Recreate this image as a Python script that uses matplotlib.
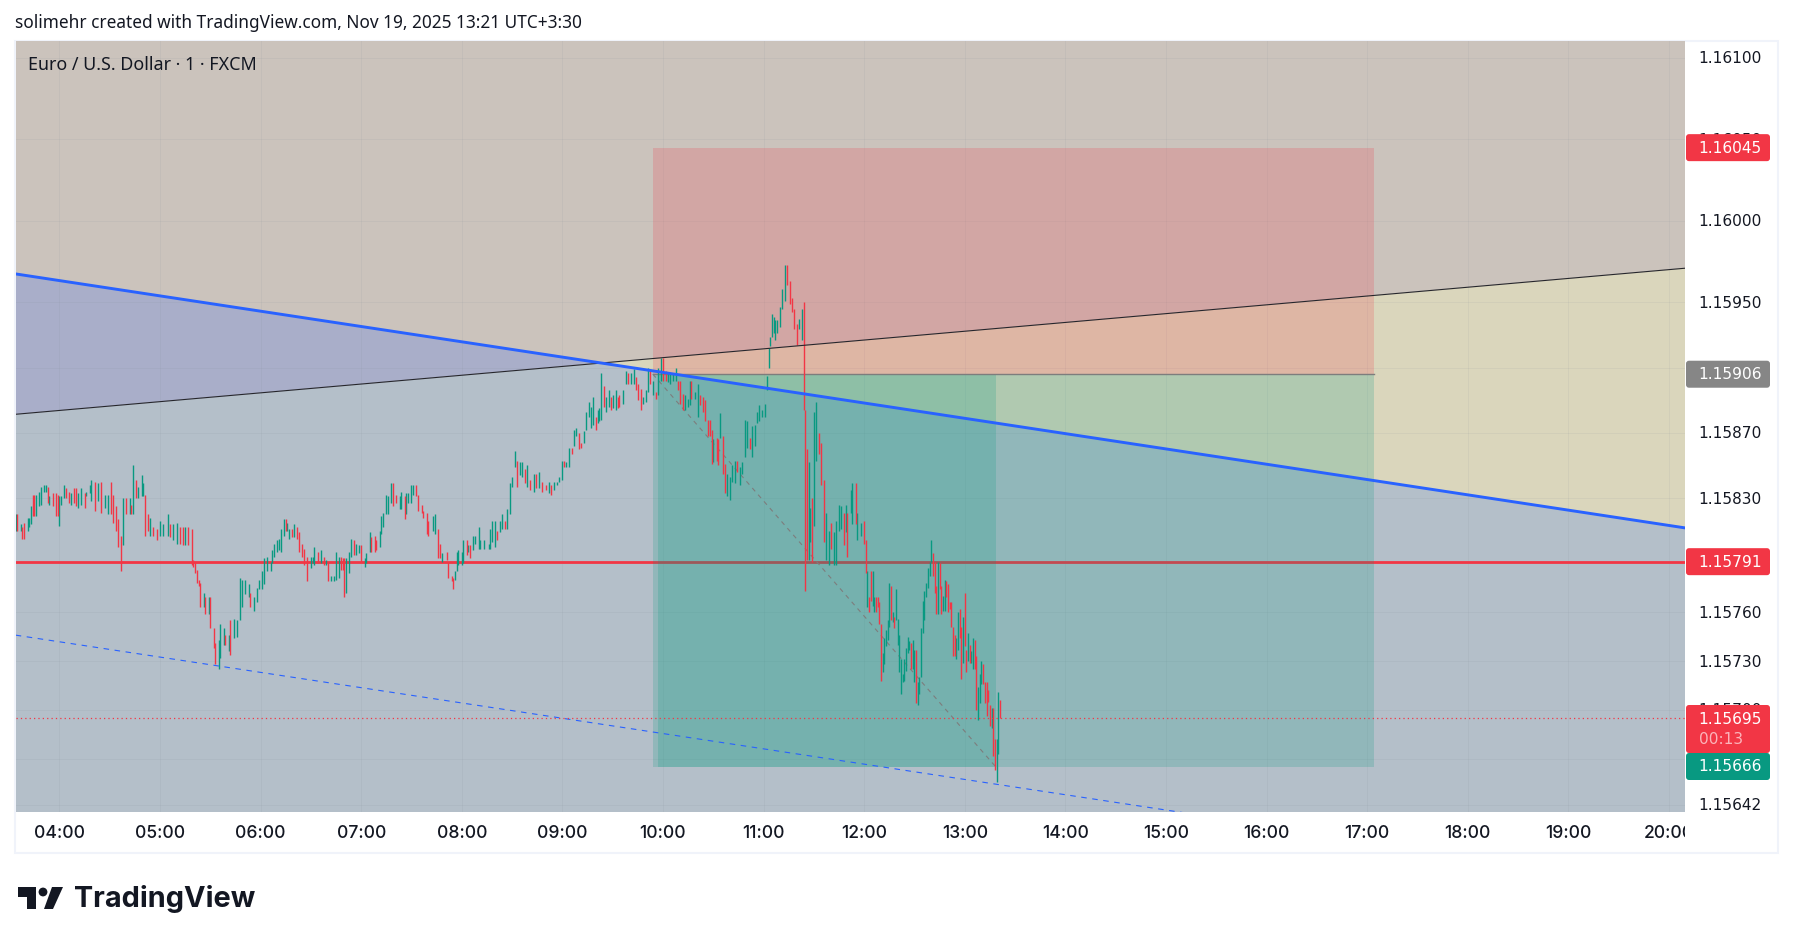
import numpy as np
import matplotlib
matplotlib.use("Agg")
import matplotlib.pyplot as plt
from matplotlib.patches import Rectangle, FancyBboxPatch, Polygon
from matplotlib.transforms import Bbox, TransformedBbox

W, H = 1793, 944
GREEN = "#089981"
RED = "#f23645"

# minutes after 03:34, open and close in 1e-5 above 1.15000
bar_minute = [
    0, 1, 3, 4, 5, 7, 8, 9, 10, 11, 12, 14, 15, 17, 18, 19, 20, 22, 24, 25,
    26, 27, 29, 30, 32, 33, 35, 36, 37, 39, 41, 42, 44, 45, 47, 49, 51, 53, 55, 57,
    58, 60, 61, 63, 64, 66, 68, 69, 70, 72, 73, 75, 76, 77, 79, 80, 82, 84, 86, 88,
    91, 92, 94, 96, 98, 100, 101, 103, 105, 106, 107, 108, 109, 110, 112, 113, 115, 116, 118, 119,
    121, 122, 124, 125, 127, 128, 130, 132, 134, 135, 137, 139, 140, 142, 144, 145, 147, 148, 150, 152,
    153, 154, 156, 157, 158, 160, 161, 162, 163, 165, 166, 168, 169, 171, 172, 174, 176, 177, 178, 180,
    182, 184, 185, 186, 188, 190, 191, 193, 194, 195, 196, 197, 199, 200, 202, 203, 205, 206, 208, 209,
    211, 212, 214, 215, 217, 218, 219, 221, 222, 224, 225, 227, 229, 230, 232, 233, 234, 236, 237, 239,
    240, 242, 243, 245, 246, 249, 250, 252, 253, 254, 257, 258, 260, 261, 262, 263, 264, 266, 267, 269,
    270, 271, 273, 274, 276, 277, 279, 282, 283, 284, 286, 287, 289, 290, 292, 293, 295, 296, 298, 299,
    301, 302, 304, 305, 307, 309, 310, 312, 314, 316, 318, 319, 321, 323, 324, 326, 327, 328, 330, 332,
    333, 334, 336, 337, 339, 340, 342, 343, 344, 346, 347, 348, 349, 351, 352, 354, 355, 356, 358, 359,
    360, 362, 364, 365, 367, 369, 370, 371, 373, 374, 376, 377, 378, 380, 382, 383, 385, 386, 388, 389,
    390, 392, 394, 395, 396, 398, 399, 401, 402, 403, 405, 407, 408, 410, 411, 413, 414, 415, 416, 418,
    419, 420, 422, 423, 424, 426, 427, 429, 430, 432, 433, 435, 436, 438, 439, 441, 442, 443, 445, 447,
    448, 449, 450, 451, 452, 453, 454, 456, 457, 459, 460, 462, 463, 464, 466, 467, 469, 470, 471, 472,
    473, 474, 475, 476, 477, 479, 480, 482, 483, 485, 486, 488, 489, 491, 492, 494, 495, 496, 498, 499,
    501, 502, 504, 506, 507, 508, 509, 510, 511, 512, 513, 514, 515, 516, 517, 518, 519, 520, 521, 522,
    523, 524, 525, 526, 527, 528, 529, 530, 531, 532, 533, 534, 535, 536, 537, 538, 539, 540, 541, 542,
    543, 544, 545, 546, 547, 548, 549, 550, 551, 552, 553, 554, 555, 556, 557, 558, 559, 560, 561, 562,
    563, 564, 565, 566, 567, 568, 569, 570, 571, 572, 573, 574, 575, 576, 577, 578, 579, 580, 581, 582,
    583, 584, 585, 586, 587,
]
bar_open = [
    810, 820, 810, 812, 815, 810, 812, 814, 832, 832, 819, 825, 826, 834, 834, 837, 826, 833, 833, 832,
    813, 826, 830, 836, 834, 826, 836, 836, 824, 826, 833, 831, 833, 828, 840, 828, 840, 824, 820, 840,
    832, 825, 817, 807, 801, 830, 820, 826, 820, 841, 830, 831, 831, 832, 820, 807, 812, 811, 807, 807,
    807, 814, 804, 802, 812, 812, 801, 812, 811, 792, 791, 786, 780, 778, 763, 769, 759, 769, 750, 741,
    725, 732, 740, 746, 736, 755, 744, 745, 755, 763, 771, 769, 772, 761, 766, 774, 774, 777, 785, 785,
    790, 794, 797, 798, 797, 807, 817, 810, 805, 811, 806, 812, 809, 802, 799, 794, 787, 790, 789, 797,
    790, 794, 789, 791, 779, 779, 780, 781, 794, 793, 793, 772, 784, 794, 804, 795, 796, 801, 788, 790,
    797, 806, 807, 804, 800, 808, 812, 820, 820, 827, 839, 832, 823, 823, 831, 820, 827, 827, 832, 838,
    832, 826, 822, 821, 816, 810, 808, 811, 802, 791, 797, 791, 782, 781, 780, 785, 789, 789, 790, 804,
    797, 801, 798, 802, 799, 799, 799, 799, 799, 803, 800, 810, 809, 811, 816, 811, 820, 837, 849, 853,
    844, 843, 848, 837, 841, 834, 845, 836, 840, 838, 833, 838, 835, 838, 840, 841, 853, 849, 849, 861,
    862, 868, 870, 864, 864, 872, 880, 873, 875, 880, 876, 877, 878, 899, 883, 886, 892, 885, 884, 892,
    893, 888, 900, 907, 900, 900, 904, 900, 897, 888, 889, 895, 909, 893, 895, 893, 902, 916, 908, 901,
    900, 902, 902, 902, 902, 894, 884, 886, 887, 902, 891, 880, 893, 892, 890, 878, 878, 872, 852, 867,
    866, 867, 868, 851, 831, 829, 840, 839, 853, 838, 845, 855, 861, 867, 855, 862, 876, 877, 880, 880,
    896, 910, 923, 929, 931, 927, 931, 935, 946, 951, 973, 963, 953, 946, 937, 934, 927, 950, 884, 860,
    792, 803, 830, 813, 853, 870, 864, 841, 792, 789, 815, 789, 789, 810, 811, 821, 809, 821, 821, 814,
    839, 804, 807, 816, 804, 763, 769, 785, 764, 760, 769, 769, 766, 753, 723, 728, 739, 743, 751, 776,
    754, 757, 755, 740, 723, 710, 717, 718, 724, 735, 737, 741, 725, 717, 737, 703, 710, 720, 747, 755,
    769, 775, 782, 791, 796, 791, 776, 759, 790, 776, 761, 761, 779, 777, 766, 766, 751, 746, 731, 737,
    762, 751, 729, 772, 737, 730, 740, 729, 725, 743, 733, 694, 704, 716, 728, 717, 717, 712, 703, 689,
    701, 682, 656, 673, 706,
]
bar_close = [
    820, 810, 814, 805, 805, 818, 818, 825, 819, 819, 832, 834, 837, 838, 838, 827, 831, 825, 819, 819,
    831, 831, 838, 830, 827, 833, 827, 825, 833, 836, 824, 834, 838, 841, 822, 839, 821, 832, 832, 820,
    815, 810, 800, 785, 830, 820, 830, 820, 850, 830, 837, 844, 839, 807, 810, 818, 807, 804, 816, 814,
    820, 806, 814, 815, 802, 801, 812, 801, 789, 788, 784, 778, 776, 763, 772, 759, 769, 750, 738, 728,
    743, 753, 750, 740, 746, 734, 756, 755, 781, 780, 780, 777, 763, 769, 775, 780, 785, 793, 794, 791,
    798, 802, 804, 805, 811, 817, 810, 815, 811, 806, 814, 805, 797, 794, 789, 779, 794, 794, 800, 790,
    798, 789, 792, 779, 782, 782, 797, 794, 786, 786, 769, 793, 797, 805, 795, 802, 801, 791, 793, 796,
    809, 797, 797, 798, 810, 819, 821, 832, 831, 839, 825, 827, 831, 834, 817, 833, 833, 838, 838, 831,
    822, 821, 818, 808, 807, 819, 820, 793, 793, 796, 792, 781, 779, 774, 785, 797, 798, 797, 804, 795,
    801, 793, 807, 807, 812, 804, 804, 802, 811, 816, 816, 804, 816, 820, 811, 823, 839, 843, 859, 837,
    852, 852, 839, 850, 835, 845, 836, 846, 834, 835, 840, 832, 840, 840, 843, 853, 849, 852, 861, 857,
    872, 873, 860, 861, 871, 883, 889, 886, 892, 872, 884, 885, 907, 886, 892, 896, 884, 893, 896, 885,
    886, 896, 908, 900, 907, 909, 896, 890, 884, 892, 896, 910, 900, 902, 891, 910, 916, 902, 902, 907,
    907, 906, 910, 896, 888, 884, 893, 891, 902, 891, 895, 900, 887, 883, 877, 868, 868, 851, 866, 853,
    850, 882, 845, 833, 845, 843, 850, 853, 846, 849, 852, 878, 877, 860, 874, 875, 883, 887, 884, 888,
    905, 922, 929, 943, 941, 939, 939, 947, 958, 973, 961, 949, 944, 934, 924, 940, 946, 884, 773, 792,
    852, 824, 791, 883, 889, 857, 838, 803, 821, 810, 799, 809, 816, 826, 825, 801, 826, 794, 835, 839,
    814, 821, 815, 802, 784, 785, 760, 767, 785, 769, 760, 763, 753, 718, 735, 744, 749, 755, 778, 755,
    760, 750, 774, 756, 746, 731, 722, 731, 738, 745, 742, 725, 743, 737, 704, 717, 720, 750, 767, 773,
    778, 787, 791, 804, 782, 772, 759, 791, 774, 759, 770, 780, 769, 760, 762, 751, 733, 733, 744, 760,
    744, 719, 757, 739, 723, 747, 729, 736, 744, 725, 700, 714, 722, 730, 716, 704, 696, 705, 690, 701,
    672, 663, 682, 711, 695,
]

# axis ticks and tags
hour_labels = ["04:00", "05:00", "06:00", "07:00", "08:00", "09:00", "10:00", "11:00",
               "12:00", "13:00", "14:00", "15:00", "16:00", "17:00", "18:00", "19:00", "20:00"]
hours = list(range(4, 21))
grid_prices = [1.16100, 1.16050, 1.16000, 1.15950, 1.15910, 1.15870, 1.15830, 1.15790,
               1.15760, 1.15730, 1.15700, 1.15670, 1.15642]
price_ticks = [1.16100, 1.16050, 1.16000, 1.15950, 1.15870, 1.15830,
               1.15760, 1.15730, 1.15700, 1.15642]
tick_text = ["1.16100", "1.16050", "1.16000", "1.15950", "1.15870", "1.15830",
             "1.15760", "1.15730", "1.15700", "1.15642"]

stop_price, entry_price, target_price = 1.16045, 1.15906, 1.15665
level_price = 1.15791
last_price = 1.15695
tag_prices = [1.16045, 1.15906, 1.15791]
tag_colors = [RED, "#868686", RED]

x_left, x_right = 3.566, 20.16
y_low, y_high = 1.156374, 1.161104

# trend lines, left and right end
blue_ends = [1.159675, 1.158117]
black_ends = [1.158814, 1.159710]
dash_ends = [1.157459, 1.155902]

plt.rcParams["font.family"] = ["Noto Sans", "DejaVu Sans"]
fig = plt.figure(figsize=(W / 100, H / 100), dpi=100, facecolor="white")


def px_axes(x0, y0, x1, y1):
    return [x0 / W, 1 - y1 / H, (x1 - x0) / W, (y1 - y0) / H]


# outer frame
bg = fig.add_axes([0, 0, 1, 1])
bg.set_xlim(0, W)
bg.set_ylim(H, 0)
bg.axis("off")
bg.add_patch(Rectangle((15, 41), 1763, 812, fc="white", ec="#f0f3fa", lw=1.5))

ax = fig.add_axes(px_axes(15.7, 41, 1685, 812))
ax.set_xlim(x_left, x_right)
ax.set_ylim(y_low, y_high)

# the four shaded zones split by the two long lines
xs = np.array([x_left, x_right])
cross = x_left + (blue_ends[0] - black_ends[0]) / (
    (blue_ends[0] - black_ends[0]) - (blue_ends[1] - black_ends[1])) * (x_right - x_left)
cross_y = np.interp(cross, xs, blue_ends)
ax.add_patch(Polygon([(x_left, y_high), (x_right, y_high), (x_right, black_ends[1]), (cross, cross_y),
                      (x_left, blue_ends[0])], fc="#cbc3bc", ec="none", zorder=1))
ax.add_patch(Polygon([(x_left, y_low), (x_right, y_low), (x_right, blue_ends[1]), (cross, cross_y),
                      (x_left, black_ends[0])], fc="#b4bfc9", ec="none", zorder=1))
ax.add_patch(Polygon([(x_left, blue_ends[0]), (cross, cross_y), (x_left, black_ends[0])],
                     fc="#a9aec9", ec="none", zorder=1))
ax.add_patch(Polygon([(cross, cross_y), (x_right, black_ends[1]), (x_right, blue_ends[1])],
                     fc="#dad6bc", ec="none", zorder=1))

# grid
for h in hours:
    ax.axvline(h, color="#7f8a94", lw=0.7, alpha=0.10, zorder=2)
for p in grid_prices:
    ax.axhline(p, color="#7f8a94", lw=0.7, alpha=0.10, zorder=2)

ax.axhline(level_price, color=RED, lw=2.0, zorder=2.5)

# short position box, the darker green part stops at the last bar
box_start = 9.90
box_fill_start = 9.95
box_mid = 13.31
box_end = 17.07
ax.add_patch(Rectangle((box_start, entry_price), box_end - box_start, stop_price - entry_price,
                       fc=RED, alpha=0.20, ec="none", zorder=3))
ax.add_patch(Rectangle((box_start, target_price), box_end - box_start, entry_price - target_price,
                       fc="#089981", alpha=0.20, ec="none", zorder=3))
ax.add_patch(Rectangle((box_fill_start, target_price), box_mid - box_fill_start, entry_price - target_price,
                       fc="#089981", alpha=0.20, ec="none", zorder=3))
ax.plot([box_start, box_end], [entry_price, entry_price], color="#7d7d7d", lw=1.0, zorder=4)
ax.plot([box_start, box_mid], [entry_price, target_price], color="#7d7d7d", lw=0.8,
        dashes=(4, 4), zorder=4)

# candles
t = 3 + 34 / 60 + np.array(bar_minute) / 60
o = 1.15 + np.array(bar_open) * 1e-5
c = 1.15 + np.array(bar_close) * 1e-5
up = c >= o
ax.vlines(t[up], o[up], c[up], color=GREEN, lw=1.0, zorder=5)
ax.vlines(t[~up], c[~up], o[~up], color=RED, lw=1.0, zorder=5)

# lines
ax.plot(xs, black_ends, color="#26262c", lw=0.8, zorder=6)
ax.plot(xs, blue_ends, color="#2962ff", lw=2.1, zorder=7)
ax.plot(xs, dash_ends, color="#2962ff", lw=0.8, dashes=(5, 5), zorder=6)
ax.axhline(last_price, color=RED, lw=0.9, dashes=(1, 2.5), zorder=6)

ax.set_xticks([])
ax.set_yticks([])
for s in ax.spines.values():
    s.set_visible(False)


# everything outside the plot goes in pixel space
def price_y(p):
    return 221.0 + (1.16 - p) * 163000


bg.set_zorder(0)
ax.set_zorder(1)

# top layer for the text on the plot
top = fig.add_axes([0, 0, 1, 1], facecolor="none")
top.set_xlim(0, W)
top.set_ylim(H, 0)
top.axis("off")
top.set_zorder(2)
top.text(27.5, 64.5, "Euro / U.S. Dollar · 1 · FXCM", fontsize=12.9, color="#131722",
         va="center", ha="left")

time_clip = TransformedBbox(Bbox([[15, 812], [1685, 853]]), bg.transData)
for label, h in zip(hour_labels, hours):
    x = 59.4 + (h - 4) * 100.6
    txt = bg.text(x, 833.5, label, fontsize=12.6, color="#131722", ha="center", va="center",
                  fontweight="medium", family=["Inter", "DejaVu Sans"])
    txt.set_clip_box(time_clip)
    txt.set_clip_on(True)

for label, p in zip(tick_text, price_ticks):
    bg.text(1762, price_y(p) + 1, label, fontsize=11.1, color="#131722", ha="right", va="center",
            family="DejaVu Sans")

for p, col in zip(tag_prices, tag_colors):
    y = price_y(p)
    bg.add_patch(FancyBboxPatch((1686, y - 13.5), 84, 27, boxstyle="round,pad=0,rounding_size=3",
                                fc=col, ec="none", zorder=5))
    bg.text(1762, y + 0.5, f"{p:.5f}", fontsize=11.1, color="white", ha="right", va="center", zorder=6,
            family="DejaVu Sans")

# last price block with countdown, and the green low price tag
bg.add_patch(FancyBboxPatch((1686, 705), 84, 48, boxstyle="round,pad=0,rounding_size=3",
                            fc=RED, ec="none", zorder=5))
bg.text(1762, 719, "1.15695", fontsize=11.1, color="white", ha="right", va="center", zorder=6,
        family="DejaVu Sans")
bg.text(1699, 740, "00:13", fontsize=11.1, color="#fbb4ba", ha="left", va="center", zorder=6,
        family="DejaVu Sans")
bg.add_patch(FancyBboxPatch((1686, 753), 84, 27, boxstyle="round,pad=0,rounding_size=3",
                            fc=GREEN, ec="none", zorder=5))
bg.text(1762, 766.5, "1.15666", fontsize=11.1, color="white", ha="right", va="center", zorder=6,
        family="DejaVu Sans")

bg.text(15, 23, "solimehr created with TradingView.com, Nov 19, 2025 13:21 UTC+3:30",
        fontsize=12.4, color="#131722", ha="left", va="center")

# logo
bg.add_patch(Polygon([(18, 887), (36, 887), (36, 909), (27, 909), (27, 897), (18, 897)],
                     fc="#131722", ec="none"))
bg.add_patch(plt.Circle((43, 892), 4.4, fc="#131722", ec="none"))
bg.add_patch(Polygon([(52, 887), (63, 887), (53, 909), (44, 909)], fc="#131722", ec="none"))
bg.text(74, 899, "TradingView", fontsize=20.8, fontweight="bold", color="#131722", ha="left", va="center",
        family=["Inter", "DejaVu Sans"])

fig.savefig("out.png", dpi=100, facecolor="white")
